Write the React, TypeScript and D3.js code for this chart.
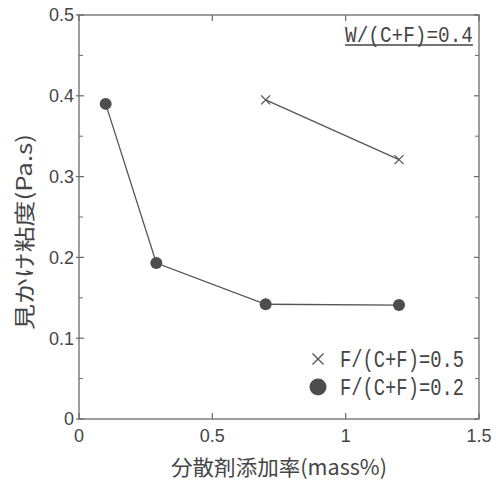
import React from 'react';
import * as d3 from 'd3';

// F/(C+F)=0.2 series (filled circles)
const xCircle = [0.1, 0.29, 0.7, 1.2];
const yCircle = [0.39, 0.193, 0.142, 0.141];
// F/(C+F)=0.5 series (crosses)
const xCross = [0.7, 1.2];
const yCross = [0.395, 0.321];

const xTicks = [0, 0.5, 1, 1.5];
const xTickLabels = ['0', '0.5', '1', '1.5'];
const yTicks = [0, 0.1, 0.2, 0.3, 0.4, 0.5];
const yTickLabels = ['0', '0.1', '0.2', '0.3', '0.4', '0.5'];
const yMinor = [0.05, 0.15, 0.25, 0.35, 0.45];

const legendLabels = ['F/(C+F)=0.5', 'F/(C+F)=0.2'];
const noteLabel = 'W/(C+F)=0.4';
const xTitle = '分散剤添加率(mass%)';
const yTitle = '見かけ粘度(Pa.s)';

const W = 496;
const H = 486;
const left = 79, right = 479, top = 15, bottom = 419;

export default function App() {
  const x = d3.scaleLinear().domain([0, 1.5]).range([left, right]);
  const y = d3.scaleLinear().domain([0, 0.5]).range([bottom, top]);
  const ink = '#454545';
  const axisCol = '#6a6a6a';
  const sans = '"Liberation Sans", Arial, sans-serif';
  const mono = '"Liberation Mono", "DejaVu Sans Mono", monospace';
  const cjk = '"Noto Sans CJK JP", sans-serif';

  const path = d3.line<[number, number]>()
    .x(d => x(d[0]))
    .y(d => y(d[1]));
  const circlePath = path(xCircle.map((v, i) => [v, yCircle[i]] as [number, number]));
  const crossPath = path(xCross.map((v, i) => [v, yCross[i]] as [number, number]));

  const cross = (cx: number, cy: number, s: number) =>
    `M${cx - s},${cy - s}L${cx + s},${cy + s}M${cx - s},${cy + s}L${cx + s},${cy - s}`;

  return (
    <svg width={W} height={H} style={{ position: 'absolute', left: 0, top: 0, background: '#fff' }}>
      {/* frame */}
      <rect x={left} y={top} width={right - left} height={bottom - top}
        fill="none" stroke={axisCol} strokeWidth={1.3} />

      {/* y ticks */}
      {yTicks.map((t, i) => (
        <g key={'yt' + i}>
          <line x1={left - 3} x2={left + 5} y1={y(t)} y2={y(t)} stroke={axisCol} strokeWidth={1.2} />
          <line x1={right - 5} x2={right} y1={y(t)} y2={y(t)} stroke={axisCol} strokeWidth={1.2} />
          <text x={left - 5} y={y(t)} dy="0.36em" textAnchor="end"
            fontFamily={sans} fontSize={18} fill={ink}>{yTickLabels[i]}</text>
        </g>
      ))}
      {yMinor.map((t, i) => (
        <g key={'ym' + i}>
          <line x1={left} x2={left + 4} y1={y(t)} y2={y(t)} stroke={axisCol} strokeWidth={1} />
          <line x1={right - 4} x2={right} y1={y(t)} y2={y(t)} stroke={axisCol} strokeWidth={1} />
        </g>
      ))}

      {/* x ticks */}
      {xTicks.map((t, i) => (
        <g key={'xt' + i}>
          <line x1={x(t)} x2={x(t)} y1={bottom} y2={bottom - 6} stroke={axisCol} strokeWidth={1.2} />
          <line x1={x(t)} x2={x(t)} y1={top} y2={top + 6} stroke={axisCol} strokeWidth={1.2} />
          <text x={x(t)} y={bottom + 23} textAnchor="middle"
            fontFamily={sans} fontSize={18} fill={ink}>{xTickLabels[i]}</text>
        </g>
      ))}

      {/* series lines */}
      <path d={circlePath || ''} fill="none" stroke="#555" strokeWidth={1.3} />
      <path d={crossPath || ''} fill="none" stroke="#555" strokeWidth={1.3} />

      {/* markers */}
      {xCircle.map((v, i) => (
        <circle key={'c' + i} cx={x(v)} cy={y(yCircle[i])} r={6} fill="#4d4d4d" />
      ))}
      {xCross.map((v, i) => (
        <path key={'x' + i} d={cross(x(v), y(yCross[i]), 4.5)} stroke="#555" strokeWidth={1.3} fill="none" />
      ))}

      {/* note */}
      <text x={345} y={42} fontFamily={mono} fontSize={22} fill={ink}
        textLength={128} lengthAdjust="spacingAndGlyphs">{noteLabel}</text>
      <line x1={345} x2={473} y1={45} y2={45} stroke={ink} strokeWidth={1.6} />

      {/* legend */}
      <path d={cross(318, 359, 5.5)} stroke="#555" strokeWidth={1.4} fill="none" />
      <text x={340} y={359} dy="0.36em" fontFamily={mono} fontSize={23} fill={ink}
        textLength={124} lengthAdjust="spacingAndGlyphs">{legendLabels[0]}</text>
      <circle cx={318} cy={387} r={8.5} fill="#4d4d4d" />
      <text x={340} y={387} dy="0.36em" fontFamily={mono} fontSize={23} fill={ink}
        textLength={124} lengthAdjust="spacingAndGlyphs">{legendLabels[1]}</text>

      {/* axis titles */}
      <text x={(left + right) / 2} y={475} textAnchor="middle" fontFamily={cjk}
        fontSize={21} fill={ink} textLength={216} lengthAdjust="spacingAndGlyphs">{xTitle}</text>
      <text transform={`translate(32,232) rotate(-90)`} textAnchor="middle" fontFamily={cjk}
        fontSize={21} fill={ink} textLength={196} lengthAdjust="spacingAndGlyphs">{yTitle}</text>
    </svg>
  );
}
